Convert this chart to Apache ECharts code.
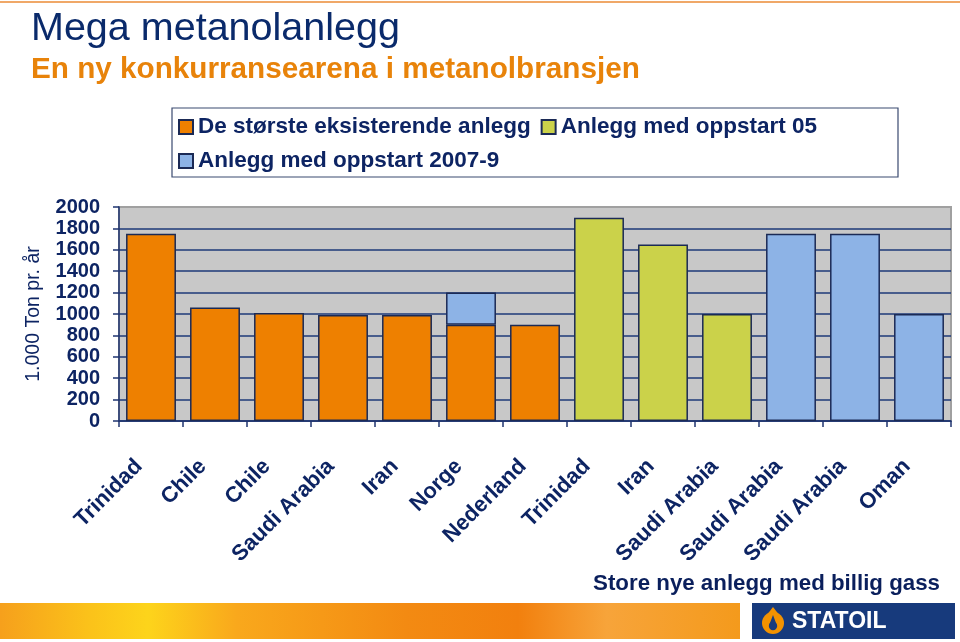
<!DOCTYPE html>
<html>
<head>
<meta charset="utf-8">
<script src="https://cdn.jsdelivr.net/npm/echarts@6/dist/echarts.min.js"></script>
<style>
html,body{margin:0;padding:0;background:#fff;}
#chart{width:960px;height:642px;}
</style>
</head>
<body>
<div id="chart"></div>
<script>
const categories = ['Trinidad','Chile','Chile','Saudi Arabia','Iran','Norge','Nederland','Trinidad','Iran','Saudi Arabia','Saudi Arabia','Saudi Arabia','Oman'];
const seriesNames = ['De største eksisterende anlegg','Anlegg med oppstart 05','Anlegg med oppstart 2007-9'];
const existing = [1750,1060,1010,990,990,900,900,'-','-','-','-','-','-'];
const startup05 = ['-','-','-','-','-','-','-',1900,1650,1000,'-','-','-'];
const startup0709 = ['-','-','-','-','-',300,'-','-','-','-',1750,1750,1000];
const yTicks = [0,200,400,600,800,1000,1200,1400,1600,1800,2000];
const yAxisName = '1.000 Ton pr. år';
const titleText = 'Mega metanolanlegg';
const subtitleText = 'En ny konkurransearena i metanolbransjen';
const noteText = 'Store nye anlegg med billig gass';

const NAVY = '#0D2463';
const FONT = '"Liberation Sans", Arial, sans-serif';
const chart = echarts.init(document.getElementById('chart'));

const barBorder = {borderColor:'#1B2A55', borderWidth:1.5};
chart.setOption({
  backgroundColor:'#ffffff',
  animation:false,
  textStyle:{fontFamily:FONT},
  grid:{left:119, right:9, top:207, bottom:221, show:true, backgroundColor:'#C8C8C8', borderColor:'#A0A0A0', borderWidth:2, containLabel:false},
  legend:{
    left:178, top:115, width:712, padding:0, itemGap:10, itemWidth:14, itemHeight:14,
    icon:'rect', data:seriesNames,
    textStyle:{color:NAVY, fontWeight:'bold', fontSize:22.5, lineHeight:24, fontFamily:FONT}
  },
  xAxis:{
    type:'category', data:categories,
    axisLine:{lineStyle:{color:'#1F3570', width:1.5}},
    axisTick:{show:true, length:6, lineStyle:{color:'#1F3570', width:1.5}},
    axisLabel:{interval:0, rotate:45, margin:30, padding:[0,17,0,0], color:NAVY, fontWeight:'bold', fontSize:22, fontFamily:FONT}
  },
  yAxis:{
    type:'value', min:yTicks[0], max:yTicks[yTicks.length-1], interval:yTicks[1]-yTicks[0],
    name:yAxisName, nameLocation:'middle', nameRotate:90, nameGap:75,
    nameTextStyle:{color:NAVY, fontSize:19.5, fontFamily:FONT},
    axisLine:{show:true, lineStyle:{color:'#1F3570', width:1.5}},
    axisTick:{show:true, length:6, lineStyle:{color:'#1F3570', width:1.5}},
    axisLabel:{margin:19, color:NAVY, fontWeight:'bold', fontSize:20, fontFamily:FONT, formatter:function(v){return String(v);}},
    splitLine:{show:true, showMaxLine:false, lineStyle:{color:'#1E3A78', width:1.5}}
  },
  series:[
    {name:seriesNames[0], type:'bar', stack:'a', data:existing, barCategoryGap:'22%', itemStyle:Object.assign({color:'#EE8000'}, barBorder)},
    {name:seriesNames[1], type:'bar', stack:'a', data:startup05, itemStyle:Object.assign({color:'#CBD24A'}, barBorder)},
    {name:seriesNames[2], type:'bar', stack:'a', data:startup0709, itemStyle:Object.assign({color:'#8DB3E6'}, barBorder)}
  ],
  graphic:[
    {type:'line', z:0, shape:{x1:0,y1:2,x2:960,y2:2}, style:{stroke:'#F0A868', lineWidth:2}},
    {type:'text', left:31, top:9, style:{text:titleText, fill:'#0A2A6B', font:'39.5px '+FONT}},
    {type:'text', left:31, top:55, style:{text:subtitleText, fill:'#E8830A', font:'bold 29.7px '+FONT}},
    {type:'rect', z:-1, shape:{x:172,y:108,width:726,height:69}, style:{fill:'#ffffff', stroke:'#3A4A70', lineWidth:1.2}},
    {type:'text', right:20, top:573, style:{text:noteText, fill:'#0A1F5C', font:'bold 22.3px '+FONT}},
    {type:'rect', shape:{x:0,y:603,width:740,height:36}, style:{fill:new echarts.graphic.LinearGradient(0,0,1,0,[
      {offset:0,color:'#F6A01C'},{offset:0.12,color:'#FBC21A'},{offset:0.2,color:'#FDD41B'},{offset:0.32,color:'#F9A81C'},
      {offset:0.55,color:'#F38A12'},{offset:0.7,color:'#F2800E'},{offset:0.82,color:'#F7A43A'},{offset:1,color:'#F49A1C'}])}},
    {type:'rect', shape:{x:752,y:603,width:203,height:36}, style:{fill:'#173A7C'}},
    {type:'circle', shape:{cx:773,cy:623,r:11}, style:{fill:'#F39200'}},
    {type:'polygon', shape:{points:[[773,607],[766,616],[780,616]]}, style:{fill:'#F39200'}},
    {type:'circle', shape:{cx:773,cy:626,r:4.2}, style:{fill:'#173A7C'}},
    {type:'polygon', shape:{points:[[773,615],[769.4,624.5],[776.6,624.5]]}, style:{fill:'#173A7C'}},
    {type:'text', left:792, top:610, style:{text:'STATOIL', fill:'#ffffff', font:'bold 23px '+FONT}}
  ]
});
</script>
</body>
</html>
